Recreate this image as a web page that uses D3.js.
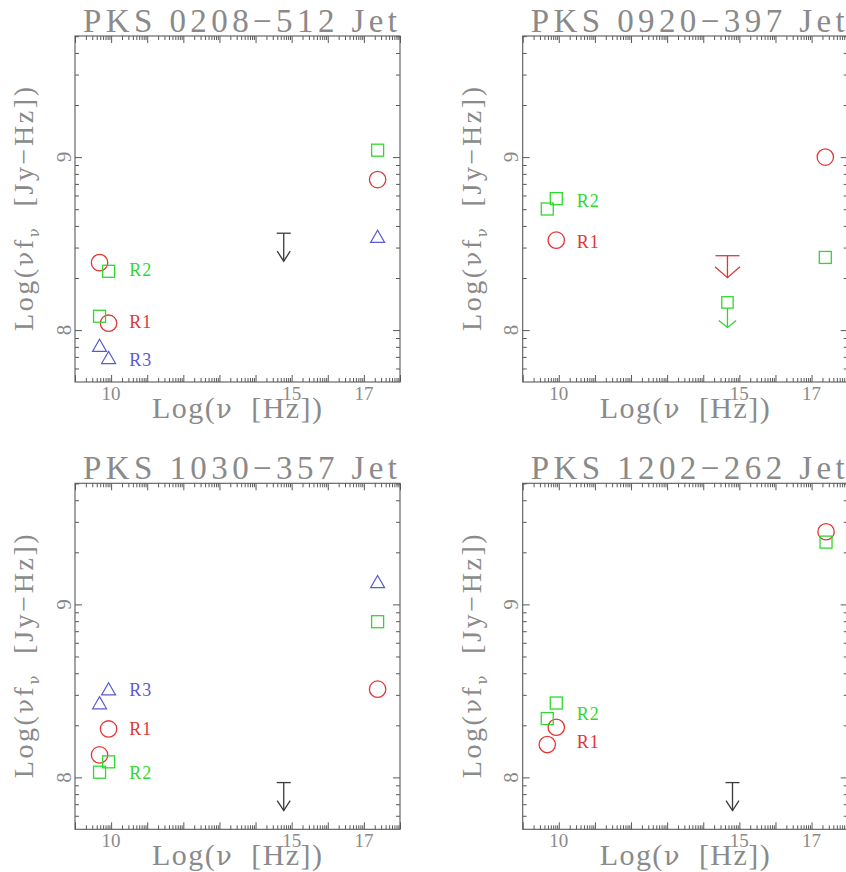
<!DOCTYPE html>
<html>
<head>
<meta charset="utf-8">
<script src="https://cdn.jsdelivr.net/npm/d3@7"></script>
<style>
  html, body { margin: 0; padding: 0; background: #fff; overflow: hidden; }
  svg { display: block; }
  text { font-family: "Liberation Serif", "DejaVu Serif", serif; white-space: pre; }
  .nu { font-family: "DejaVu Serif", serif; }
</style>
</head>
<body>
<svg id="chart" width="846" height="872"></svg>
<script>
// Axis ranges (log10 of frequency in Hz, log10 of nu*f_nu in Jy-Hz)
const logNuRange = [9, 18];
const logFluxRange = [7.7, 9.7];
const xTickLabels = [10, 15, 17];
const yTickLabels = [8, 9];

const titles = [
  "PKS 0208\u2212512 Jet",
  "PKS 0920\u2212397 Jet",
  "PKS 1030\u2212357 Jet",
  "PKS 1202\u2212262 Jet"
];

// Region fluxes, each point is [log nu, log nu f_nu]
const j0208_R1 = [[9.68, 8.39], [9.93, 8.04], [17.38, 8.87]];
const j0208_R2 = [[9.68, 8.08], [9.93, 8.34], [17.38, 9.04]];
const j0208_R3 = [[9.68, 7.90], [9.93, 7.83], [17.38, 8.53]];
const j0208_limit = [[14.78, 8.56]];

const j0920_R1 = [[9.93, 8.52], [17.38, 9.00]];
const j0920_R2 = [[9.68, 8.70], [9.93, 8.76], [17.38, 8.42]];
const j0920_R1limit = [[14.67, 8.43]];
const j0920_R2limit = [[14.67, 8.16]];

const j1030_R1 = [[9.68, 8.13], [9.93, 8.28], [17.38, 8.51]];
const j1030_R2 = [[9.68, 8.03], [9.93, 8.09], [17.38, 8.90]];
const j1030_R3 = [[9.68, 8.42], [9.93, 8.50], [17.38, 9.12]];
const j1030_limit = [[14.78, 7.97]];

const j1202_R1 = [[9.68, 8.19], [9.93, 8.29], [17.40, 9.42]];
const j1202_R2 = [[9.68, 8.34], [9.93, 8.43], [17.40, 9.36]];
const j1202_limit = [[14.81, 7.97]];

// Region name tags: [log nu, log nu f_nu, text]
const j0208_tags = [[10.5, 8.35, "R2"], [10.5, 8.05, "R1"], [10.5, 7.83, "R3"]];
const j0920_tags = [[10.5, 8.75, "R2"], [10.5, 8.51, "R1"]];
const j1030_tags = [[10.5, 8.505, "R3"], [10.5, 8.28, "R1"], [10.5, 8.03, "R2"]];
const j1202_tags = [[10.5, 8.37, "R2"], [10.5, 8.205, "R1"]];

const colors = { R1: "#e23636", R2: "#2fd82f", R3: "#5a5ad2", lim: "#3a3a3a" };

const panels = [
  { title: titles[0], left: 75, top: 36,
    R1: j0208_R1, R2: j0208_R2, R3: j0208_R3,
    limits: [{ pts: j0208_limit, kind: "bar", color: colors.lim }],
    tags: j0208_tags },
  { title: titles[1], left: 522.7, top: 36,
    R1: j0920_R1, R2: j0920_R2, R3: [],
    limits: [{ pts: j0920_R1limit, kind: "bigbar", color: colors.R1 },
             { pts: j0920_R2limit, kind: "square", color: colors.R2 }],
    tags: j0920_tags },
  { title: titles[2], left: 75, top: 483.3,
    R1: j1030_R1, R2: j1030_R2, R3: j1030_R3,
    limits: [{ pts: j1030_limit, kind: "bar", color: colors.lim }],
    tags: j1030_tags },
  { title: titles[3], left: 522.7, top: 483.3,
    R1: j1202_R1, R2: j1202_R2, R3: [],
    limits: [{ pts: j1202_limit, kind: "bar", color: colors.lim }],
    tags: j1202_tags }
];

const W = 325, H = 346;
const axisColor = "#5a5a5a";
const textColor = "#8a8a8a";
const tagColorFor = t => colors[t];

const svg = d3.select("#chart");

const x = d3.scaleLog().domain(logNuRange.map(v => 10 ** v)).range([0, W]);
const y = d3.scaleLog().domain(logFluxRange.map(v => 10 ** v)).range([H, 0]);
const px = v => x(10 ** v);
const py = v => y(10 ** v);

const isDecade = t => Math.abs(Math.log10(t) - Math.round(Math.log10(t))) < 1e-9;
const xMajor = x.ticks().filter(isDecade);
const xMinor = x.ticks().filter(t => !isDecade(t));
const yMajor = y.ticks().filter(isDecade);
const yMinor = y.ticks().filter(t => !isDecade(t));

panels.forEach((p) => {
  const g = svg.append("g").attr("transform", `translate(${p.left},${p.top})`);

  // tick marks on all four sides, pointing inward
  const tickGroups = [
    [d3.axisBottom(x).tickValues(xMajor).tickSize(-7), `translate(0,${H})`],
    [d3.axisBottom(x).tickValues(xMinor).tickSize(-4), `translate(0,${H})`],
    [d3.axisTop(x).tickValues(xMajor).tickSize(-7), null],
    [d3.axisTop(x).tickValues(xMinor).tickSize(-4), null],
    [d3.axisLeft(y).tickValues(yMajor).tickSize(-7), null],
    [d3.axisLeft(y).tickValues(yMinor).tickSize(-4), null],
    [d3.axisRight(y).tickValues(yMajor).tickSize(-7), `translate(${W},0)`],
    [d3.axisRight(y).tickValues(yMinor).tickSize(-4), `translate(${W},0)`]
  ];
  tickGroups.forEach(([ax, tr]) => {
    const a = g.append("g").call(ax.tickFormat(""));
    if (tr) a.attr("transform", tr);
    a.select(".domain").remove();
    a.selectAll("line").attr("stroke", axisColor).attr("stroke-width", 1);
  });

  g.append("rect")
    .attr("x", 0).attr("y", 0).attr("width", W).attr("height", H)
    .attr("fill", "none").attr("stroke", axisColor).attr("stroke-width", 1.1);

  // tick labels
  g.selectAll("text.xtl").data(xTickLabels).join("text")
    .attr("class", "xtl")
    .attr("x", d => px(d)).attr("y", H + 18)
    .attr("text-anchor", "middle")
    .attr("font-size", 19).attr("fill", textColor)
    .text(d => d);

  g.selectAll("text.ytl").data(yTickLabels).join("text")
    .attr("class", "ytl")
    .attr("transform", d => `translate(-4.5,${py(d)}) rotate(-90)`)
    .attr("text-anchor", "middle")
    .attr("font-size", 21).attr("fill", textColor)
    .text(d => d);

  // title
  g.append("text")
    .attr("x", 8).attr("y", -4)
    .attr("font-size", 33).attr("fill", textColor)
    .attr("textLength", 314).attr("lengthAdjust", "spacing")
    .text(p.title);

  // axis titles
  const xl = g.append("text")
    .attr("x", 77).attr("y", H + 36)
    .attr("font-size", 30).attr("fill", textColor)
    .attr("textLength", 170).attr("lengthAdjust", "spacing");
  xl.append("tspan").text("Log(");
  xl.append("tspan").attr("class", "nu").attr("font-size", 26).text("\u03bd");
  xl.append("tspan").text("  [Hz])");

  const yl = g.append("text")
    .attr("transform", `translate(-42,${H / 2}) rotate(-90)`)
    .attr("text-anchor", "middle")
    .attr("font-size", 28).attr("fill", textColor)
    .attr("textLength", 244).attr("lengthAdjust", "spacing");
  yl.append("tspan").text("Log(");
  yl.append("tspan").attr("class", "nu").attr("font-size", 24).text("\u03bd");
  yl.append("tspan").text("f");
  yl.append("tspan").attr("class", "nu").attr("font-size", 15).attr("dy", 6).text("\u03bd");
  yl.append("tspan").attr("dy", -6).text("  [Jy\u2212Hz])");

  // R1: circles
  g.selectAll("circle.r1").data(p.R1).join("circle")
    .attr("class", "r1")
    .attr("cx", d => px(d[0])).attr("cy", d => py(d[1])).attr("r", 8.2)
    .attr("fill", "none").attr("stroke", colors.R1).attr("stroke-width", 1.3);

  // R2: squares
  const s = 12;
  g.selectAll("rect.r2").data(p.R2).join("rect")
    .attr("class", "r2")
    .attr("x", d => px(d[0]) - s / 2).attr("y", d => py(d[1]) - s / 2)
    .attr("width", s).attr("height", s)
    .attr("fill", "none").attr("stroke", colors.R2).attr("stroke-width", 1.3);

  // R3: triangles
  const tri = d3.symbol().type(d3.symbolTriangle).size(85);
  g.selectAll("path.r3").data(p.R3).join("path")
    .attr("class", "r3")
    .attr("transform", d => `translate(${px(d[0])},${py(d[1])})`)
    .attr("d", tri)
    .attr("fill", "none").attr("stroke", colors.R3).attr("stroke-width", 1.2);

  // upper limits
  p.limits.forEach(lim => {
    lim.pts.forEach(d => {
      const cx = px(d[0]), cy = py(d[1]);
      const lg = g.append("g").attr("fill", "none").attr("stroke", lim.color).attr("stroke-width", 1.3);
      let stem, hw, hh, start;
      if (lim.kind === "bar") { stem = 28; hw = 6.5; hh = 10; start = 0;
        lg.append("line").attr("x1", cx - 7).attr("x2", cx + 7).attr("y1", cy).attr("y2", cy); }
      else if (lim.kind === "bigbar") { stem = 22; hw = 12.5; hh = 11; start = 0;
        lg.append("line").attr("x1", cx - 12).attr("x2", cx + 12).attr("y1", cy).attr("y2", cy); }
      else { stem = 25; hw = 8.7; hh = 7; start = 5.7;
        lg.append("rect").attr("x", cx - 5.7).attr("y", cy - 5.7).attr("width", 11.4).attr("height", 11.4); }
      lg.append("line").attr("x1", cx).attr("x2", cx).attr("y1", cy + start).attr("y2", cy + stem);
      lg.append("path").attr("d", `M${cx - hw},${cy + stem - hh}L${cx},${cy + stem}L${cx + hw},${cy + stem - hh}`);
    });
  });

  // region tags
  g.selectAll("text.tag").data(p.tags).join("text")
    .attr("class", "tag")
    .attr("x", d => px(d[0])).attr("y", d => py(d[1]))
    .attr("dy", "0.35em")
    .attr("font-size", 18).attr("letter-spacing", 1)
    .attr("fill", d => tagColorFor(d[2]))
    .text(d => d[2]);
});
</script>
</body>
</html>
